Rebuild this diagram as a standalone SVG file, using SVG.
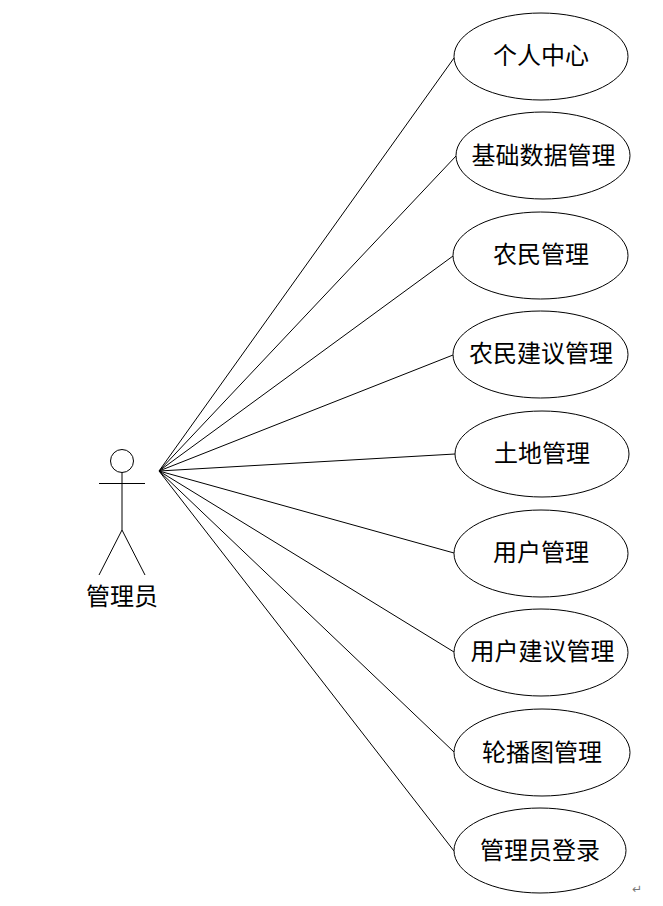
<svg xmlns="http://www.w3.org/2000/svg" width="663" height="906" viewBox="0 0 663 906">
<style>
.s{fill:none;stroke:#000;stroke-width:1}
.e{fill:#fff;stroke:#000;stroke-width:1}
.t{font-family:"Noto Sans CJK SC","Liberation Sans",sans-serif;font-size:24px;fill:#000;text-anchor:middle;dominant-baseline:central}
.m{font-family:"DejaVu Sans",sans-serif;font-size:12px;fill:#777;text-anchor:middle;dominant-baseline:central}
</style>
<rect width="663" height="906" fill="#fff"/>
<g id="connectors" class="s">
<line x1="159" y1="471" x2="454" y2="58"/>
<line x1="159" y1="471" x2="456" y2="156"/>
<line x1="159" y1="471" x2="453" y2="256"/>
<line x1="159" y1="471" x2="453" y2="355"/>
<line x1="159" y1="471" x2="455" y2="454"/>
<line x1="159" y1="471" x2="454" y2="553"/>
<line x1="159" y1="471" x2="454" y2="652"/>
<line x1="159" y1="471" x2="454" y2="752"/>
<line x1="159" y1="471" x2="454" y2="851"/>
</g>
<g id="actor">
<circle class="s" cx="122" cy="461" r="11.5"/>
<path class="s" d="M122 472.500V530M99 483.500H145M122 530L99 575M122 530L145 575"/>
<text class="t" x="122" y="594.500">管理员</text>
</g>
<g id="uc1"><ellipse class="e" cx="541" cy="56.500" rx="87" ry="43.500"/><text class="t" x="541" y="53.500">个人中心</text></g>
<g id="uc2"><ellipse class="e" cx="543" cy="155.500" rx="87" ry="43.500"/><text class="t" x="543.500" y="153.500">基础数据管理</text></g>
<g id="uc3"><ellipse class="e" cx="540.500" cy="255.500" rx="87.500" ry="43.500"/><text class="t" x="541" y="252.500">农民管理</text></g>
<g id="uc4"><ellipse class="e" cx="540.500" cy="354.500" rx="87.500" ry="43.500"/><text class="t" x="541" y="351.500">农民建议管理</text></g>
<g id="uc5"><ellipse class="e" cx="542" cy="454" rx="87" ry="43"/><text class="t" x="542" y="451.500">土地管理</text></g>
<g id="uc6"><ellipse class="e" cx="541" cy="553.500" rx="87" ry="43.500"/><text class="t" x="541" y="550.500">用户管理</text></g>
<g id="uc7"><ellipse class="e" cx="541" cy="652.500" rx="87" ry="43.500"/><text class="t" x="542.500" y="649.500">用户建议管理</text></g>
<g id="uc8"><ellipse class="e" cx="542" cy="752.500" rx="88" ry="43.500"/><text class="t" x="542" y="750.500">轮播图管理</text></g>
<g id="uc9"><ellipse class="e" cx="540" cy="850.500" rx="86" ry="42.500"/><text class="t" x="540" y="848.500">管理员登录</text></g>
<text id="return-mark" class="m" x="637" y="889">↵</text>
</svg>
